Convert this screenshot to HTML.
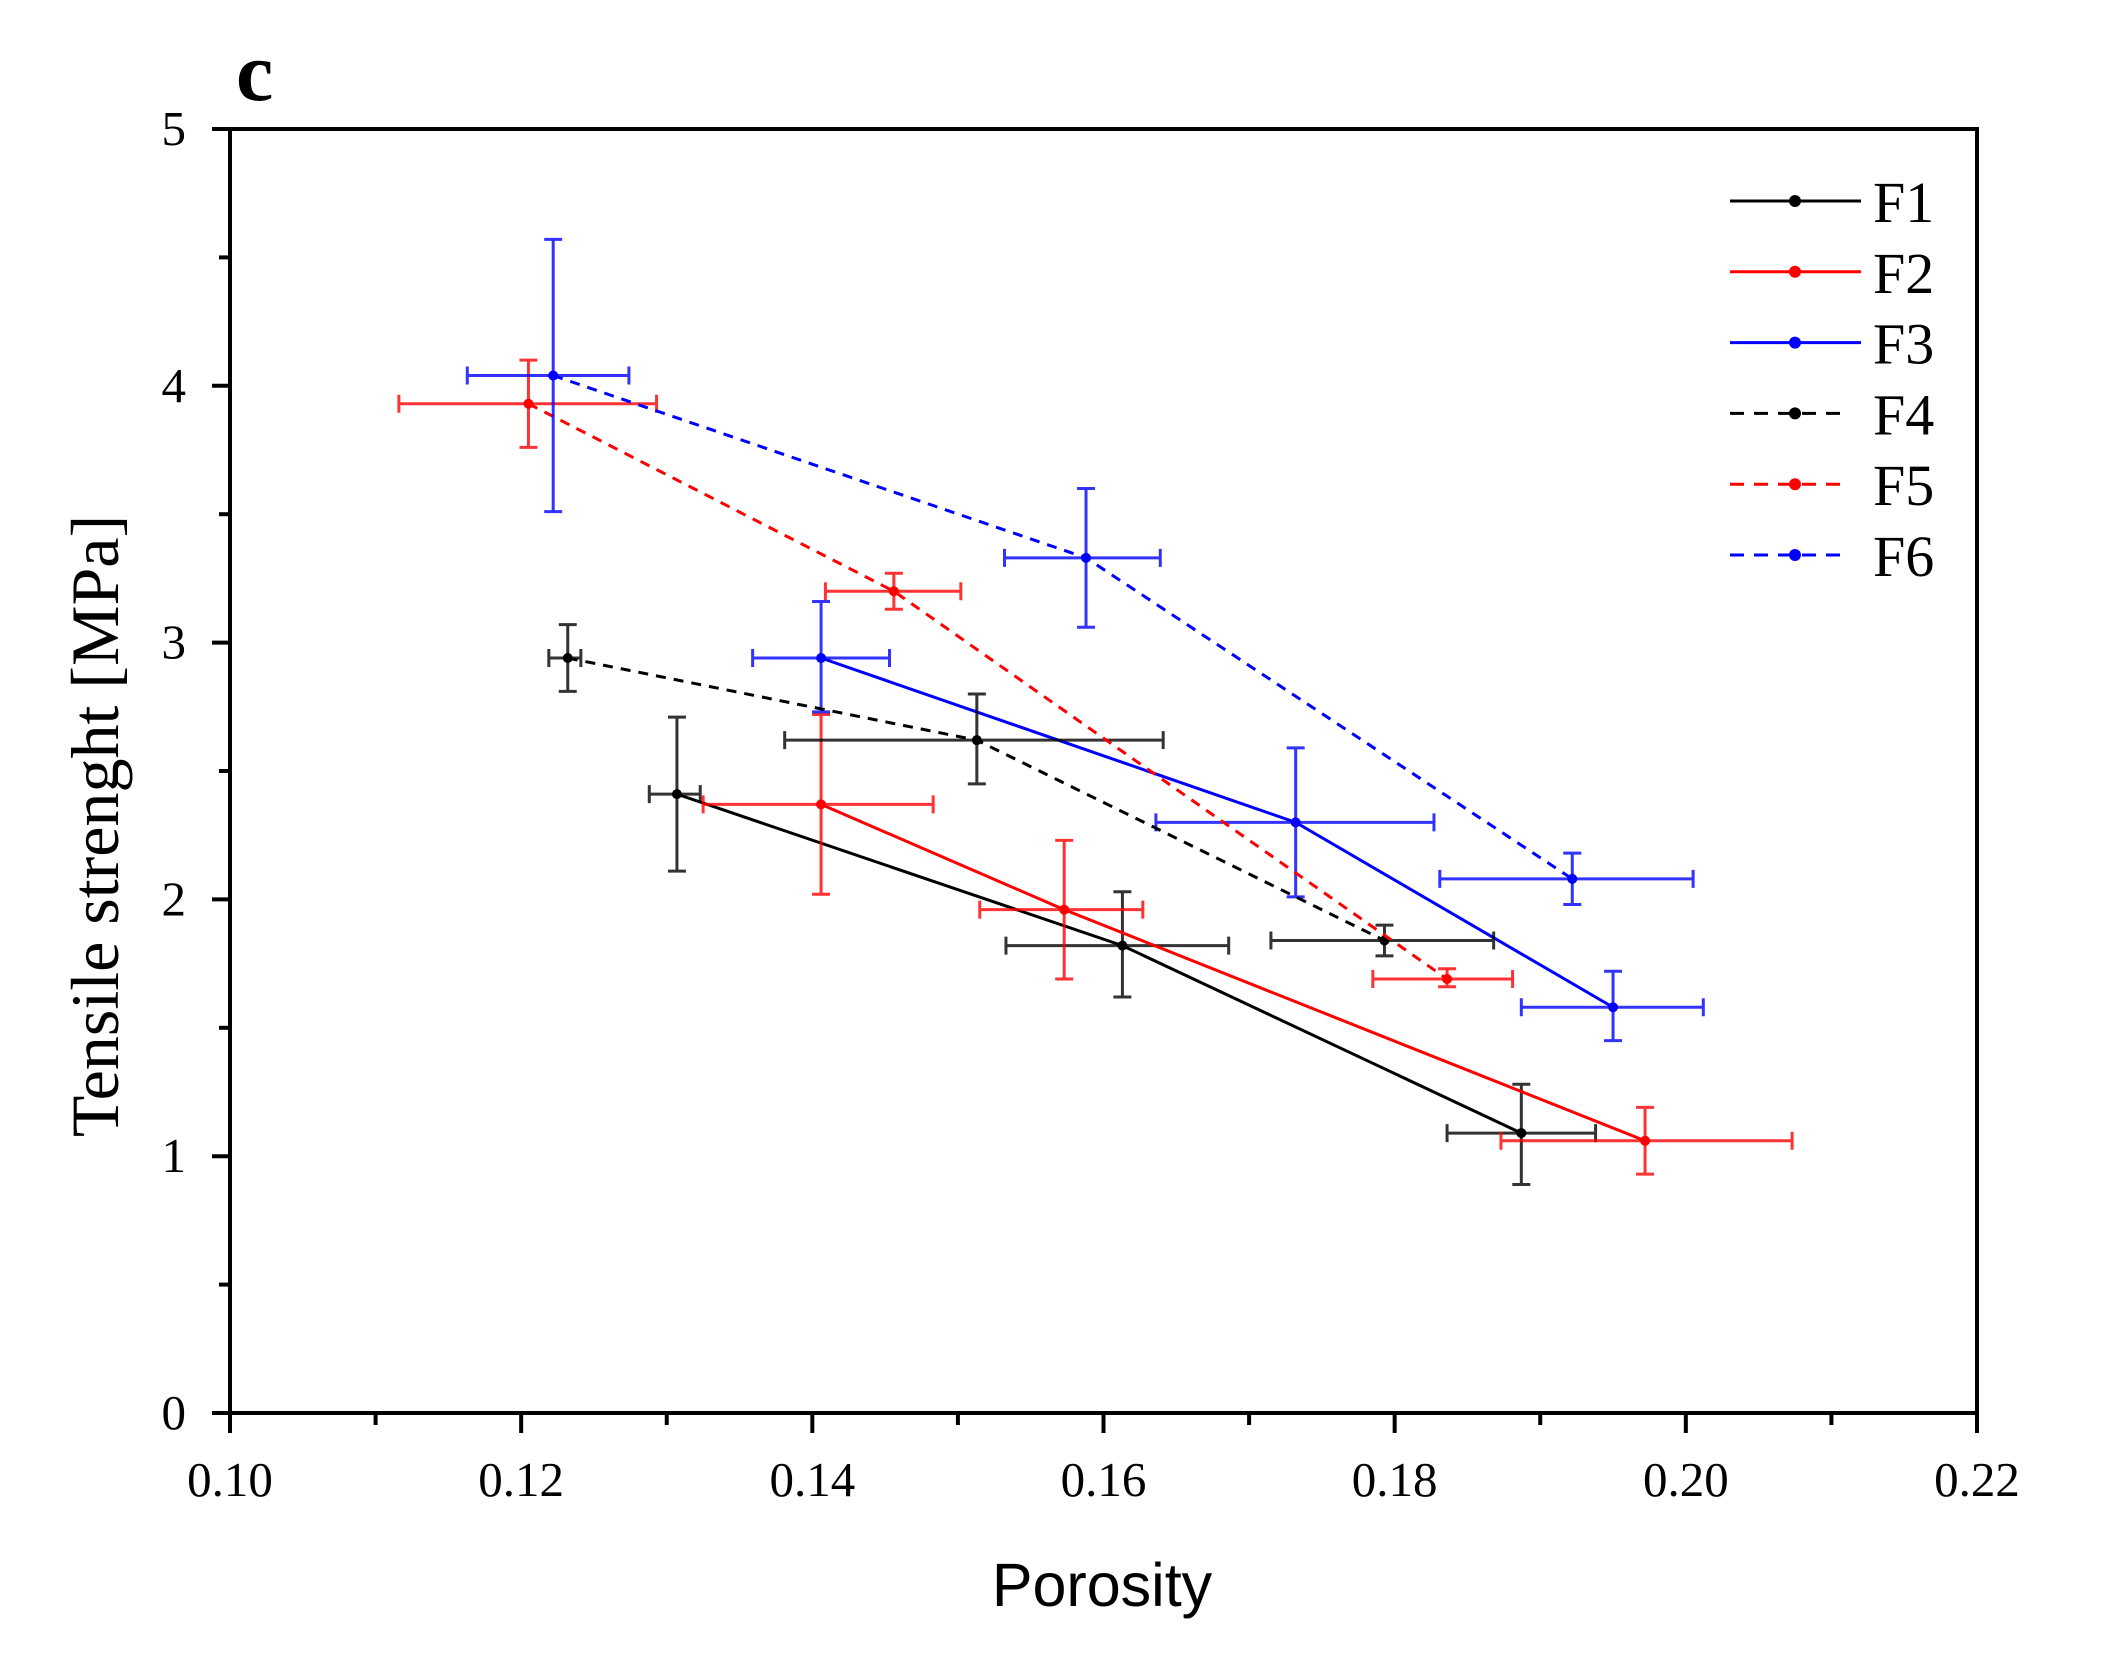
<!DOCTYPE html>
<html><head><meta charset="utf-8"><style>
html,body{margin:0;padding:0;background:#fff;}
svg{display:block;font-family:"Liberation Serif",serif;}
</style></head><body>
<svg id="chart" width="2123" height="1672" viewBox="0 0 2123 1672" xmlns="http://www.w3.org/2000/svg">
<text x="236" y="100" font-size="84" font-weight="bold">c</text>
<g id="axes"></g>
<g id="series"></g>
<g id="legend"></g>
</svg>
<script>
const xTicks=[0.10,0.12,0.14,0.16,0.18,0.20,0.22];
const xTickLabels=["0.10","0.12","0.14","0.16","0.18","0.20","0.22"];
const yTicks=[0,1,2,3,4,5];
const yTickLabels=["0","1","2","3","4","5"];
const seriesNames=["F1","F2","F3","F4","F5","F6"];
const F1x=[0.1307,0.1613,0.1887], F1y=[2.41,1.82,1.09];
const F1yLo=[2.11,1.62,0.89], F1yHi=[2.71,2.03,1.28];
const F1xLo=[0.1288,0.1533,0.1836], F1xHi=[0.1323,0.1686,0.1938];
const F2x=[0.1406,0.1573,0.1972], F2y=[2.37,1.96,1.06];
const F2yLo=[2.02,1.69,0.93], F2yHi=[2.72,2.23,1.19];
const F2xLo=[0.1325,0.1515,0.1873], F2xHi=[0.1483,0.1627,0.2073];
const F3x=[0.1406,0.1732,0.1950], F3y=[2.94,2.30,1.58];
const F3yLo=[2.73,2.01,1.45], F3yHi=[3.16,2.59,1.72];
const F3xLo=[0.1359,0.1636,0.1887], F3xHi=[0.1453,0.1827,0.2012];
const F4x=[0.1232,0.1513,0.1793], F4y=[2.94,2.62,1.84];
const F4yLo=[2.81,2.45,1.78], F4yHi=[3.07,2.80,1.90];
const F4xLo=[0.1219,0.1381,0.1715], F4xHi=[0.1241,0.1641,0.1868];
const F5x=[0.1205,0.1456,0.1836], F5y=[3.93,3.20,1.69];
const F5yLo=[3.76,3.13,1.66], F5yHi=[4.10,3.27,1.73];
const F5xLo=[0.1116,0.1409,0.1785], F5xHi=[0.1293,0.1502,0.1881];
const F6x=[0.1222,0.1588,0.1922], F6y=[4.04,3.33,2.08];
const F6yLo=[3.51,3.06,1.98], F6yHi=[4.57,3.60,2.18];
const F6xLo=[0.1163,0.1532,0.1831], F6xHi=[0.1274,0.1639,0.2005];

const L=230,R=1977,T=129,B=1413;
const sx=v=>L+(v-0.10)/0.12*(R-L);
const sy=v=>B-(v/5)*(B-T);
const NS="http://www.w3.org/2000/svg";
function mk(tag,attrs,parent){const e=document.createElementNS(NS,tag);for(const k in attrs)e.setAttribute(k,attrs[k]);parent.appendChild(e);return e;}
const axes=document.getElementById('axes');
let fr=mk('rect',{x:L,y:T,width:R-L,height:B-T,fill:'none',stroke:'#000','stroke-width':4},axes);


xTicks.forEach((v,i)=>{
  let t=mk('line',{x1:sx(v),x2:sx(v),y1:B,y2:B+20,stroke:'#000','stroke-width':4},axes);
  
  
  if(i<xTicks.length-1){let m=mk('line',{x1:sx(v+0.01),x2:sx(v+0.01),y1:B,y2:B+12,stroke:'#000','stroke-width':4},axes);
  
  }
  let tx=mk('text',{x:sx(v),y:1496,'font-size':49,'text-anchor':'middle'},axes);tx.textContent=xTickLabels[i];
  
  
});
yTicks.forEach((v,i)=>{
  let t=mk('line',{x1:L-18,x2:L,y1:sy(v),y2:sy(v),stroke:'#000','stroke-width':4},axes);
  
  
  if(i<yTicks.length-1){let m=mk('line',{x1:L-11,x2:L,y1:sy(v+0.5),y2:sy(v+0.5),stroke:'#000','stroke-width':4},axes);
  
  }
  let tx=mk('text',{x:186,y:sy(v)+16,'font-size':49,'text-anchor':'end'},axes);tx.textContent=yTickLabels[i];
  
  
});
let xt=mk('text',{x:1102,y:1606,'font-size':61,'text-anchor':'middle','font-family':'Liberation Sans, sans-serif'},axes);xt.textContent='Porosity';


let yt=mk('text',{x:0,y:0,'font-size':68,'text-anchor':'middle',transform:'translate(118,826) rotate(-90)'},axes);yt.textContent='Tensile strenght [MPa]';



const sdata=[[F1x,F1y,F1yLo,F1yHi,F1xLo,F1xHi],[F2x,F2y,F2yLo,F2yHi,F2xLo,F2xHi],[F3x,F3y,F3yLo,F3yHi,F3xLo,F3xHi],[F4x,F4y,F4yLo,F4yHi,F4xLo,F4xHi],[F5x,F5y,F5yLo,F5yHi,F5xLo,F5xHi],[F6x,F6y,F6yLo,F6yHi,F6xLo,F6xHi]];
const colors=['#000','#f00','#00f','#000','#f00','#00f'];
const dashed=[false,false,false,true,true,true];
const sg=document.getElementById('series');
sdata.forEach((d,si)=>{
  const g=mk('g',{},sg);
  
  
  const c=colors[si];
  const [xs,ys,ylo,yhi,xlo,xhi]=d;
  for(let i=0;i<xs.length;i++){
    const X=sx(xs[i]),Y=sy(ys[i]);
    let eb=mk('path',{d:`M${sx(xlo[i])},${Y}H${sx(xhi[i])}M${sx(xlo[i])},${Y-9}V${Y+9}M${sx(xhi[i])},${Y-9}V${Y+9}M${X},${sy(ylo[i])}V${sy(yhi[i])}M${X-9},${sy(ylo[i])}H${X+9}M${X-9},${sy(yhi[i])}H${X+9}`,stroke:c,'stroke-width':3,fill:'none','stroke-opacity':0.8},g);
    
    
  }
  let pts=xs.map((v,i)=>sx(v)+','+sy(ys[i])).join(' ');
  let pl=mk('polyline',{points:pts,fill:'none',stroke:c,'stroke-width':3,'stroke-dasharray':dashed[si]?'10,8':'none'},g);
  
  
  xs.forEach((v,i)=>{let p=mk('circle',{cx:sx(v),cy:sy(ys[i]),r:5,fill:c},g);
    
    });
});
const lg=document.getElementById('legend');
seriesNames.forEach((n,i)=>{
  const y=201+i*70.8;
  const g=mk('g',{},lg);
  
  
  mk('line',{x1:1730,x2:dashed[i]?1846:1861,y1:y,y2:y,stroke:colors[i],'stroke-width':3,'stroke-dasharray':dashed[i]?'14,10':'none'},g);
  mk('circle',{cx:1795,cy:y,r:6,fill:colors[i]},g);
  const t=mk('text',{x:1873,y:y+21,'font-size':58},g);t.textContent=n;
});
</script>
</body></html>
